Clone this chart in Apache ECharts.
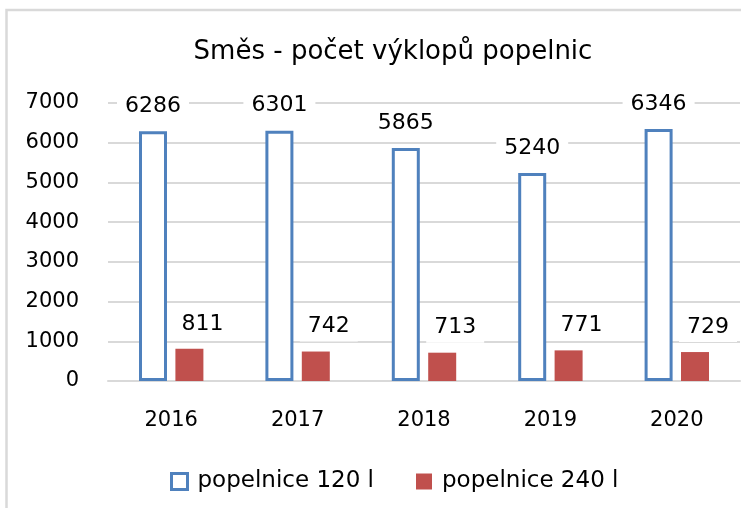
<!DOCTYPE html>
<html lang="cs">
<head>
    <meta charset="UTF-8">
    <title>Směs - počet výklopů popelnic</title>
    <script src="https://cdn.jsdelivr.net/npm/echarts@6/dist/echarts.min.js"></script>
    <style>
        html,body{margin:0;padding:0;background:#fff;}
        #chart{width:741px;height:508px;}
    </style>
</head>
<body>
<div id="chart"></div>
<script>
    var years = ['2016', '2017', '2018', '2019', '2020'];
    var bins120 = [6286, 6301, 5865, 5240, 6346];
    var bins240 = [811, 742, 713, 771, 729];
    var yTicks = [0, 1000, 2000, 3000, 4000, 5000, 6000, 7000];

    var font = 'DejaVu Sans';
    var chart = echarts.init(document.getElementById('chart'));

    var option = {
        animation: false,
        backgroundColor: '#fff',
        graphic: [{
            type: 'rect',
            shape: {x: 6.5, y: 10, width: 900, height: 700},
            style: {fill: 'none', stroke: '#d9d9d9', lineWidth: 2.5},
            silent: true
        }],
        title: {
            text: 'Směs - počet výklopů popelnic',
            left: 388,
            textAlign: 'center',
            top: 34,
            textStyle: {fontFamily: font, fontSize: 26, fontWeight: 'normal', color: '#000'}
        },
        legend: {
            left: 165,
            top: 465,
            itemWidth: 16,
            itemHeight: 16,
            itemGap: 42,
            icon: 'rect',
            itemStyle: {borderWidth: 3},
            textStyle: {fontFamily: font, fontSize: 23, color: '#000', padding: [0, 0, 0, 5]},
            data: ['popelnice 120 l', 'popelnice 240 l']
        },
        grid: {left: 108, right: 1, top: 103, bottom: 127, containLabel: false},
        xAxis: {
            type: 'category',
            data: years,
            axisLine: {lineStyle: {color: '#d9d9d9', width: 2}},
            axisTick: {show: false},
            axisLabel: {fontFamily: font, fontSize: 21, color: '#000', margin: 29}
        },
        yAxis: {
            type: 'value',
            min: yTicks[0],
            max: yTicks[yTicks.length - 1],
            interval: 1000,
            axisLine: {show: false},
            axisTick: {show: false},
            splitLine: {lineStyle: {color: '#d9d9d9', width: 2}},
            axisLabel: {
                fontFamily: font, fontSize: 21, color: '#000', margin: 29,
                formatter: function (v) { return String(v); }
            }
        },
        series: [{
            name: 'popelnice 120 l',
            type: 'bar',
            data: bins120,
            barWidth: 28,
            barGap: '30%',
            itemStyle: {color: '#ffffff', borderColor: '#4f81bd', borderWidth: 3},
            label: {
                show: true, position: 'top', distance: 10,
                backgroundColor: '#fff', padding: [4, 8],
                fontFamily: font, fontSize: 22, color: '#000',
                formatter: function (p) { return String(p.value); }
            }
        }, {
            name: 'popelnice 240 l',
            type: 'bar',
            data: bins240,
            barWidth: 28,
            barGap: '30%',
            itemStyle: {color: '#c0504d'},
            label: {
                show: true, position: 'top', distance: 10, offset: [13, 0],
                backgroundColor: '#fff', padding: [4, 8],
                fontFamily: font, fontSize: 22, color: '#000',
                formatter: function (p) { return String(p.value); }
            }
        }]
    };

    chart.setOption(option);
</script>
</body>
</html>
